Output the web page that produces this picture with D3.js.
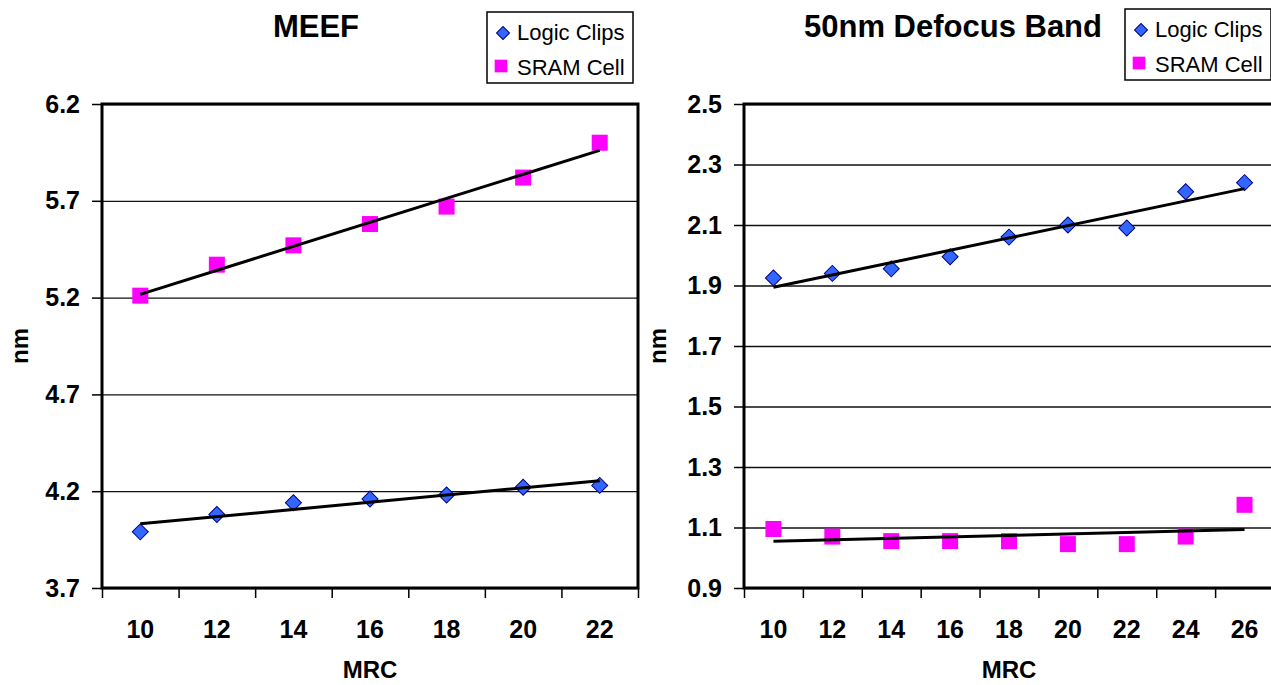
<!DOCTYPE html>
<html>
<head>
<meta charset="utf-8">
<script src="https://cdn.jsdelivr.net/npm/d3@7"></script>
<style>
  body { margin: 0; background: #fff; }
  svg { display: block; font-family: "Liberation Sans", Arial, sans-serif; }
</style>
</head>
<body>
<svg id="chart" width="1271" height="685"></svg>
<script>
// ---------- data ----------
const meefMrc = [10, 12, 14, 16, 18, 20, 22];
const meefLogic = [3.99, 4.08, 4.14, 4.16, 4.18, 4.22, 4.23];
const meefSram = [5.21, 5.37, 5.47, 5.58, 5.67, 5.82, 6.00];
const meefTicks = [3.7, 4.2, 4.7, 5.2, 5.7, 6.2];

const defocusMrc = [10, 12, 14, 16, 18, 20, 22, 24, 26];
const defocusLogic = [1.925, 1.94, 1.955, 1.995, 2.06, 2.10, 2.09, 2.21, 2.24];
const defocusSram = [1.095, 1.07, 1.055, 1.055, 1.055, 1.045, 1.045, 1.07, 1.175];
const defocusTicks = [0.9, 1.1, 1.3, 1.5, 1.7, 1.9, 2.1, 2.3, 2.5];

const seriesNames = ["Logic Clips", "SRAM Cell"];

// colours
const logicFill = "#3366ff";
const logicStroke = "#000080";
const sramFill = "#ff00ff";

const svg = d3.select("#chart");

// least squares fit on category index, like an Excel linear trendline
const trend = (values) => {
  const n = values.length;
  const xs = values.map((v, i) => i + 1);
  const mx = d3.mean(xs), my = d3.mean(values);
  const slope = d3.sum(xs, (x, i) => (x - mx) * (values[i] - my)) / d3.sum(xs, x => (x - mx) ** 2);
  return [my + slope * (1 - mx), my + slope * (n - mx)];
};

// a square turned 45 degrees
const diamond = size => d3.symbol(d3.symbolSquare, size);

const drawPanel = (p) => {
  const g = svg.append("g");
  const innerW = p.right - p.left;
  const innerH = p.bottom - p.top;

  const x = d3.scaleBand()
    .domain(p.cats)
    .range([p.left, p.right])
    .padding(0);
  const xEdges = d3.scaleLinear()
    .domain([0, p.cats.length])
    .range([p.left, p.right]);
  const y = d3.scaleLinear()
    .domain(d3.extent(p.ticks))
    .range([p.bottom, p.top]);
  const cx = d => x(d) + x.bandwidth() / 2;

  // gridlines
  g.append("g")
    .attr("transform", `translate(${p.left},0)`)
    .call(d3.axisLeft(y).tickValues(p.ticks).tickSize(-innerW).tickFormat(""))
    .call(a => a.select(".domain").remove())
    .selectAll("line")
      .attr("stroke", "#111")
      .attr("stroke-width", 1.3);

  // plot border
  g.append("rect")
    .attr("x", p.left)
    .attr("y", p.top)
    .attr("width", innerW)
    .attr("height", innerH)
    .attr("fill", "none")
    .attr("stroke", "#000")
    .attr("stroke-width", 3);

  // y axis ticks + labels
  g.append("g")
    .attr("transform", `translate(${p.left},0)`)
    .call(d3.axisLeft(y).tickValues(p.ticks).tickSize(10).tickPadding(12).tickFormat(d3.format(".1f")))
    .call(a => a.select(".domain").remove())
    .call(a => a.selectAll("line").attr("stroke", "#000").attr("stroke-width", 1.5))
    .call(a => a.selectAll("text")
      .attr("fill", "#000")
      .style("font-family", "'Liberation Sans', Arial, sans-serif")
      .style("font-size", "25px")
      .style("font-weight", "bold"));

  // x axis tick marks at category edges
  g.append("g")
    .attr("transform", `translate(0,${p.bottom})`)
    .call(d3.axisBottom(xEdges).ticks(p.cats.length).tickSize(10).tickFormat(""))
    .call(a => a.select(".domain").remove())
    .selectAll("line")
      .attr("stroke", "#000")
      .attr("stroke-width", 1.5);

  // x axis labels at category centres
  g.append("g")
    .attr("transform", `translate(0,${p.bottom})`)
    .call(d3.axisBottom(x).tickSize(0).tickPadding(32))
    .call(a => a.select(".domain").remove())
    .call(a => a.selectAll("text")
      .attr("fill", "#000")
      .style("font-family", "'Liberation Sans', Arial, sans-serif")
      .style("font-size", "25px")
      .style("font-weight", "bold"));

  // markers
  g.append("g")
    .selectAll("path")
    .data(p.logic)
    .join("path")
      .attr("d", diamond(128))
      .attr("transform", (d, i) => `translate(${cx(p.cats[i])},${y(d)}) rotate(45)`)
      .attr("fill", logicFill)
      .attr("stroke", logicStroke)
      .attr("stroke-width", 1);

  g.append("g")
    .selectAll("path")
    .data(p.sram)
    .join("path")
      .attr("d", d3.symbol(d3.symbolSquare, 256))
      .attr("transform", (d, i) => `translate(${cx(p.cats[i])},${y(d)})`)
      .attr("fill", sramFill);

  // trendlines
  [p.logic, p.sram].forEach(values => {
    const [y0, y1] = trend(values);
    g.append("line")
      .attr("x1", cx(p.cats[0]))
      .attr("x2", cx(p.cats[p.cats.length - 1]))
      .attr("y1", y(y0))
      .attr("y2", y(y1))
      .attr("stroke", "#000")
      .attr("stroke-width", 3);
  });

  // titles
  g.append("text")
    .attr("x", p.titleX)
    .attr("y", 37)
    .attr("text-anchor", "middle")
    .style("font-size", "31px")
    .style("font-weight", "bold")
    .text(p.title);

  g.append("text")
    .attr("x", p.left + innerW / 2)
    .attr("y", 678)
    .attr("text-anchor", "middle")
    .style("font-size", "24px")
    .style("font-weight", "bold")
    .text("MRC");

  g.append("text")
    .attr("transform", `translate(${p.nmX},${p.top + innerH / 2}) rotate(-90)`)
    .attr("text-anchor", "middle")
    .style("font-size", "24px")
    .style("font-weight", "bold")
    .text("nm");

  // legend
  const lg = g.append("g").attr("transform", `translate(${p.legendX},${p.legendY})`);
  lg.append("rect")
    .attr("width", 146)
    .attr("height", 71)
    .attr("fill", "#fff")
    .attr("stroke", "#000")
    .attr("stroke-width", 1.5);
  lg.append("path")
    .attr("d", diamond(84))
    .attr("transform", "translate(16,21) rotate(45)")
    .attr("fill", logicFill)
    .attr("stroke", logicStroke)
    .attr("stroke-width", 1);
  lg.append("path")
    .attr("d", d3.symbol(d3.symbolSquare, 160))
    .attr("transform", "translate(14,54)")
    .attr("fill", sramFill);
  lg.selectAll("text")
    .data(seriesNames)
    .join("text")
      .attr("x", 30)
      .attr("y", (d, i) => 28 + i * 35)
      .style("font-size", "22px")
      .text(d => d);
};

drawPanel({
  left: 102, right: 638, top: 104, bottom: 588,
  cats: meefMrc, logic: meefLogic, sram: meefSram, ticks: meefTicks,
  title: "MEEF", titleX: 316, nmX: 28,
  legendX: 487, legendY: 12
});

drawPanel({
  left: 744, right: 1274, top: 104, bottom: 588,
  cats: defocusMrc, logic: defocusLogic, sram: defocusSram, ticks: defocusTicks,
  title: "50nm Defocus Band", titleX: 953, nmX: 666,
  legendX: 1125, legendY: 9
});
</script>
</body>
</html>
